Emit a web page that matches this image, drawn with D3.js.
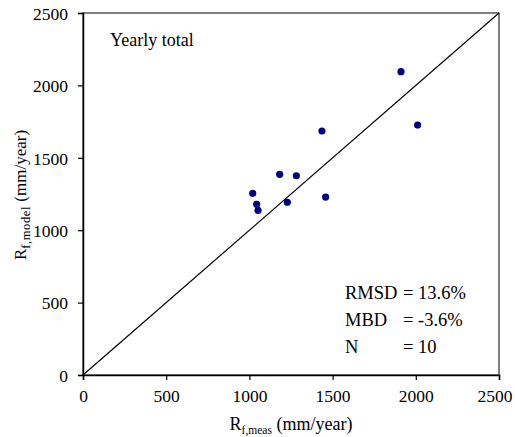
<!DOCTYPE html>
<html><head><meta charset="utf-8">
<script src="https://cdn.jsdelivr.net/npm/d3@7/dist/d3.min.js"></script>
<style>svg text { font-family: "Times New Roman", "Liberation Serif", Tinos, serif; }</style>
</head><body style="margin:0">
<script>
const measured = [1911, 2011, 1436, 1182, 1282, 1020, 1458, 1044, 1228, 1052];
const modeled  = [2095, 1726, 1685, 1386, 1376, 1255, 1229, 1179, 1193, 1137];
const xTicks = [0, 500, 1000, 1500, 2000, 2500];
const yTicks = [0, 500, 1000, 1500, 2000, 2500];
const statLabels = ["RMSD", "MBD", "N"];
const statValues = ["= 13.6%", "= -3.6%", "= 10"];
const panelTitle = "Yearly total";

const FONT = "Times New Roman, Liberation Serif, serif";
const W = 515, H = 437;
const m = {left: 83, right: 16, top: 13, bottom: 62};
const svg = d3.select("body").append("svg").attr("width", W).attr("height", H).style("display", "block")
  .attr("font-family", FONT);
const x = d3.scaleLinear().domain([0, 2500]).range([m.left, W - m.right]);
const y = d3.scaleLinear().domain([0, 2500]).range([H - m.bottom, m.top]);

// frame
svg.append("rect").attr("x", x(0)).attr("y", y(2500)).attr("width", x(2500) - x(0)).attr("height", y(0) - y(2500))
  .attr("fill", "none").attr("stroke", "#000").attr("stroke-width", 1);

const xa = svg.append("g").attr("transform", `translate(0,${y(0)})`)
  .call(d3.axisBottom(x).tickValues(xTicks).tickSize(5).tickPadding(10).tickFormat(d3.format("d")));
const ya = svg.append("g").attr("transform", `translate(${x(0)},0)`)
  .call(d3.axisLeft(y).tickValues(yTicks).tickSize(5).tickPadding(10).tickFormat(d3.format("d")));
[xa, ya].forEach(a => {
  a.attr("font-family", FONT).attr("font-size", 17.5);
  a.select(".domain").attr("stroke", "#000").attr("stroke-width", 1.5);
  a.selectAll(".tick line").attr("stroke", "#000").attr("stroke-width", 1.2);
  a.selectAll(".tick text").attr("fill", "#000").attr("font-family", FONT);
});
ya.selectAll(".tick text").attr("dy", "0.36em");
xa.selectAll(".tick").filter(d => d === 2500).select("text").attr("text-anchor", "end").attr("dx", 13);

// 1:1 line
svg.append("line").attr("x1", x(0)).attr("y1", y(0)).attr("x2", x(2500)).attr("y2", y(2500))
  .attr("stroke", "#000").attr("stroke-width", 1.2);

// points
svg.append("g").selectAll("circle").data(measured.map((v, i) => [v, modeled[i]])).join("circle")
  .attr("cx", d => x(d[0])).attr("cy", d => y(d[1])).attr("r", 3.6).attr("fill", "#000080");

svg.append("text").attr("x", 110).attr("y", 46).attr("font-family", FONT).attr("font-size", 18).text(panelTitle);

statLabels.forEach((l, i) => {
  svg.append("text").attr("x", 345).attr("y", 299 + i * 27).attr("font-family", FONT).attr("font-size", 18.5).text(l);
  svg.append("text").attr("x", 403).attr("y", 299 + i * 27).attr("font-family", FONT).attr("font-size", 18.5).text(statValues[i]);
});

// axis titles
const xt = svg.append("text").attr("x", 291).attr("y", 430).attr("text-anchor", "middle").attr("font-family", FONT).attr("font-size", 18);
xt.append("tspan").text("R");
xt.append("tspan").attr("dy", 4).attr("font-size", 11.5).text("f,meas");
xt.append("tspan").attr("dy", -4).text(" (mm/year)");

const yt = svg.append("text").attr("transform", "translate(26,195) rotate(-90)").attr("text-anchor", "middle").attr("font-family", FONT).attr("font-size", 17);
yt.append("tspan").text("R");
yt.append("tspan").attr("dy", 4).attr("font-size", 12.5).attr("letter-spacing", 0.6).text("f,model");
yt.append("tspan").attr("dy", -4).text(" (mm/year)");
</script>
</body></html>
